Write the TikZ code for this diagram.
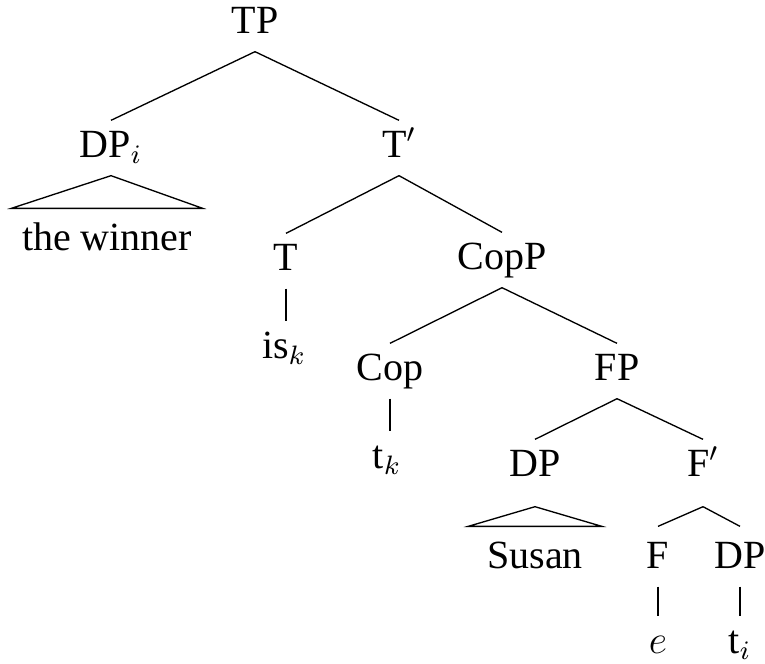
\documentclass[tikz,border=0pt]{standalone}
\usepackage{fontspec}
\setmainfont{Liberation Serif}
\tikzset{
  cat/.style={anchor=base, font=\fontsize{12}{14}\selectfont,
    text height=7.8pt, text depth=2.4pt, inner ysep=3pt, inner xsep=0pt},
  deep/.style={text depth=6pt},
  tall/.style={text height=9.3pt},
  roof/.style={cat, inner ysep=4.5pt, inner xsep=#1},
  roof/.default={3pt}
}
\begin{document}
\begin{tikzpicture}[x=0.3pt, y=-0.3pt]
  \useasboundingbox (0,0) rectangle (765,663);
  % categories
  \node[cat] (TP) at (255,33) {TP};
  \node[cat] (DPi) at (111,157) {DP$_i$};
  \node[cat] (Tbar) at (399,157) {T$'$};
  \node[roof] (winner) at (107,250) {the winner};
  \node[cat] (T) at (286,270) {T};
  \node[cat] (CopP) at (502,269) {CopP};
  \node[cat] (is) at (284,358) {is$_k$};
  \node[cat] (Cop) at (390,380) {Cop};
  \node[cat] (FP) at (617,380) {FP};
  \node[cat] (tk) at (387,468) {t$_k$};
  \node[cat, deep] (DP) at (535,476) {DP};
  \node[cat, deep] (Fbar) at (703,476) {F$'$};
  \node[roof=5.5pt] (susan) at (535,568) {Susan};
  \node[cat, tall] (F) at (658,568) {F};
  \node[cat, tall] (DPt) at (740,568) {DP};
  \node[cat] (e) at (658,653) {$e$};
  \node[cat] (ti) at (740,653) {t$_i$};
  % branches
  \draw (TP.south) -- (DPi.north);
  \draw (TP.south) -- (Tbar.north);
  \draw (Tbar.south) -- (T.north);
  \draw (Tbar.south) -- (CopP.north);
  \draw (T.south) -- (T.south |- is.north);
  \draw (CopP.south) -- (Cop.north);
  \draw (CopP.south) -- (FP.north);
  \draw (Cop.south) -- (Cop.south |- tk.north);
  \draw (FP.south) -- (DP.north);
  \draw (FP.south) -- (Fbar.north);
  \draw (Fbar.south) -- (F.north);
  \draw (Fbar.south) -- (DPt.north);
  \draw (F.south) -- (e.north);
  \draw (DPt.south) -- (ti.north);
  % roofs
  \draw (DPi.south) -- (winner.north west) -- (winner.north east) -- cycle;
  \draw (DP.south) -- (susan.north west) -- (susan.north east) -- cycle;
\end{tikzpicture}
\end{document}
